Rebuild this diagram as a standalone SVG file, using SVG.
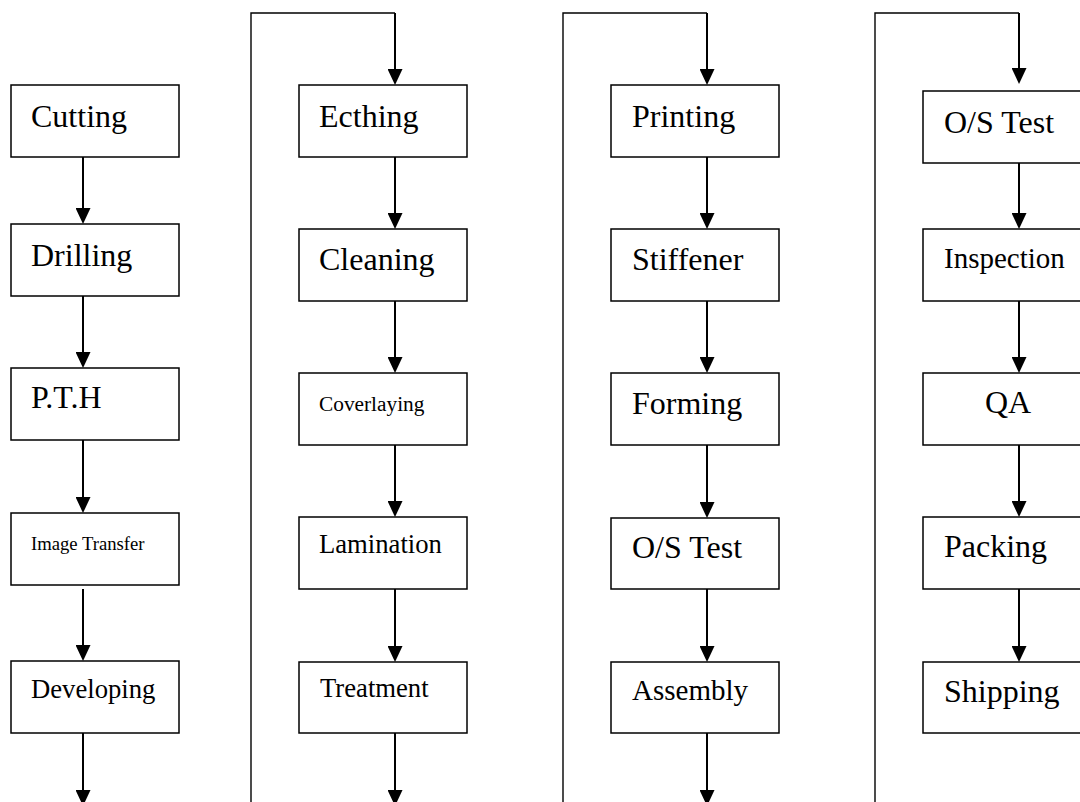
<svg xmlns="http://www.w3.org/2000/svg" width="1080" height="802" viewBox="0 0 1080 802">
<style>
.box{fill:#fff;stroke:#000;stroke-width:1.5}
.t{font-family:"Liberation Serif","Times New Roman",serif;fill:#000}
.f32{font-size:32px}
.f29{font-size:29px}
.f27{font-size:26.67px}
.f21{font-size:21.33px}
.f19{font-size:18.67px}
.arr{fill:none;stroke:#000;stroke-width:2;marker-end:url(#ah)}
.loop{fill:none;stroke:#000;stroke-width:1.4}
</style>
<defs>
<marker id="ah" markerUnits="userSpaceOnUse" viewBox="0 0 16 15" refX="12" refY="7.5" markerWidth="16" markerHeight="15" orient="auto">
<path d="M0,0 L16,7.5 L0,15 z" fill="#000"/>
</marker>
</defs>
<rect width="1080" height="802" fill="#fff"/>
<g id="connectors">
<path class="arr" d="M83,157 V220"/>
<path class="arr" d="M83,296 V364"/>
<path class="arr" d="M83,440 V509"/>
<path class="arr" d="M83,589 V657"/>
<path class="arr" d="M83,733 V802"/>
<path class="loop" d="M251,802 V13 H395"/>
<path class="arr" d="M395,13 V81"/>
<path class="arr" d="M395,157 V225"/>
<path class="arr" d="M395,301 V369"/>
<path class="arr" d="M395,445 V513"/>
<path class="arr" d="M395,589 V658"/>
<path class="arr" d="M395,733 V802"/>
<path class="loop" d="M563,802 V13 H707"/>
<path class="arr" d="M707,13 V81"/>
<path class="arr" d="M707,157 V225"/>
<path class="arr" d="M707,301 V369"/>
<path class="arr" d="M707,445 V514"/>
<path class="arr" d="M707,589 V658"/>
<path class="arr" d="M707,733 V802"/>
<path class="loop" d="M875,802 V13 H1019"/>
<path class="arr" d="M1019,13 V80"/>
<path class="arr" d="M1019,157 V225"/>
<path class="arr" d="M1019,301 V369"/>
<path class="arr" d="M1019,445 V513"/>
<path class="arr" d="M1019,589 V658"/>
</g>
<g id="n-cutting"><rect class="box" x="11" y="85" width="168" height="72"/><text class="t f32" x="31" y="127">Cutting</text></g>
<g id="n-drilling"><rect class="box" x="11" y="224" width="168" height="72"/><text class="t f32" x="31" y="266">Drilling</text></g>
<g id="n-pth"><rect class="box" x="11" y="368" width="168" height="72"/><text class="t f32" x="31" y="408">P.T.H</text></g>
<g id="n-image"><rect class="box" x="11" y="513" width="168" height="72"/><text class="t f19" x="31" y="550">Image Transfer</text></g>
<g id="n-developing"><rect class="box" x="11" y="661" width="168" height="72"/><text class="t f27" x="31" y="698">Developing</text></g>
<g id="n-ecthing"><rect class="box" x="299" y="85" width="168" height="72"/><text class="t f32" x="319" y="127">Ecthing</text></g>
<g id="n-cleaning"><rect class="box" x="299" y="229" width="168" height="72"/><text class="t f32" x="319" y="270">Cleaning</text></g>
<g id="n-coverlaying"><rect class="box" x="299" y="373" width="168" height="72"/><text class="t f21" x="319" y="411">Coverlaying</text></g>
<g id="n-lamination"><rect class="box" x="299" y="517" width="168" height="72"/><text class="t f27" x="319" y="553">Lamination</text></g>
<g id="n-treatment"><rect class="box" x="299" y="662" width="168" height="71"/><text class="t f27" x="320" y="697">Treatment</text></g>
<g id="n-printing"><rect class="box" x="611" y="85" width="168" height="72"/><text class="t f32" x="632" y="127">Printing</text></g>
<g id="n-stiffener"><rect class="box" x="611" y="229" width="168" height="72"/><text class="t f32" x="632" y="270">Stiffener</text></g>
<g id="n-forming"><rect class="box" x="611" y="373" width="168" height="72"/><text class="t f32" x="632" y="414">Forming</text></g>
<g id="n-ostest1"><rect class="box" x="611" y="518" width="168" height="71"/><text class="t f32" x="632" y="558">O/S Test</text></g>
<g id="n-assembly"><rect class="box" x="611" y="662" width="168" height="71"/><text class="t f29" x="632" y="700">Assembly</text></g>
<g id="n-ostest2"><rect class="box" x="923" y="91" width="168" height="72"/><text class="t f32" x="944" y="133">O/S Test</text></g>
<g id="n-inspection"><rect class="box" x="923" y="229" width="168" height="72"/><text class="t f29" x="944" y="268">Inspection</text></g>
<g id="n-qa"><rect class="box" x="923" y="373" width="168" height="72"/><text class="t f32" x="985" y="413">QA</text></g>
<g id="n-packing"><rect class="box" x="923" y="517" width="168" height="72"/><text class="t f32" x="944" y="557">Packing</text></g>
<g id="n-shipping"><rect class="box" x="923" y="662" width="168" height="71"/><text class="t f32" x="944" y="702">Shipping</text></g>
</svg>
